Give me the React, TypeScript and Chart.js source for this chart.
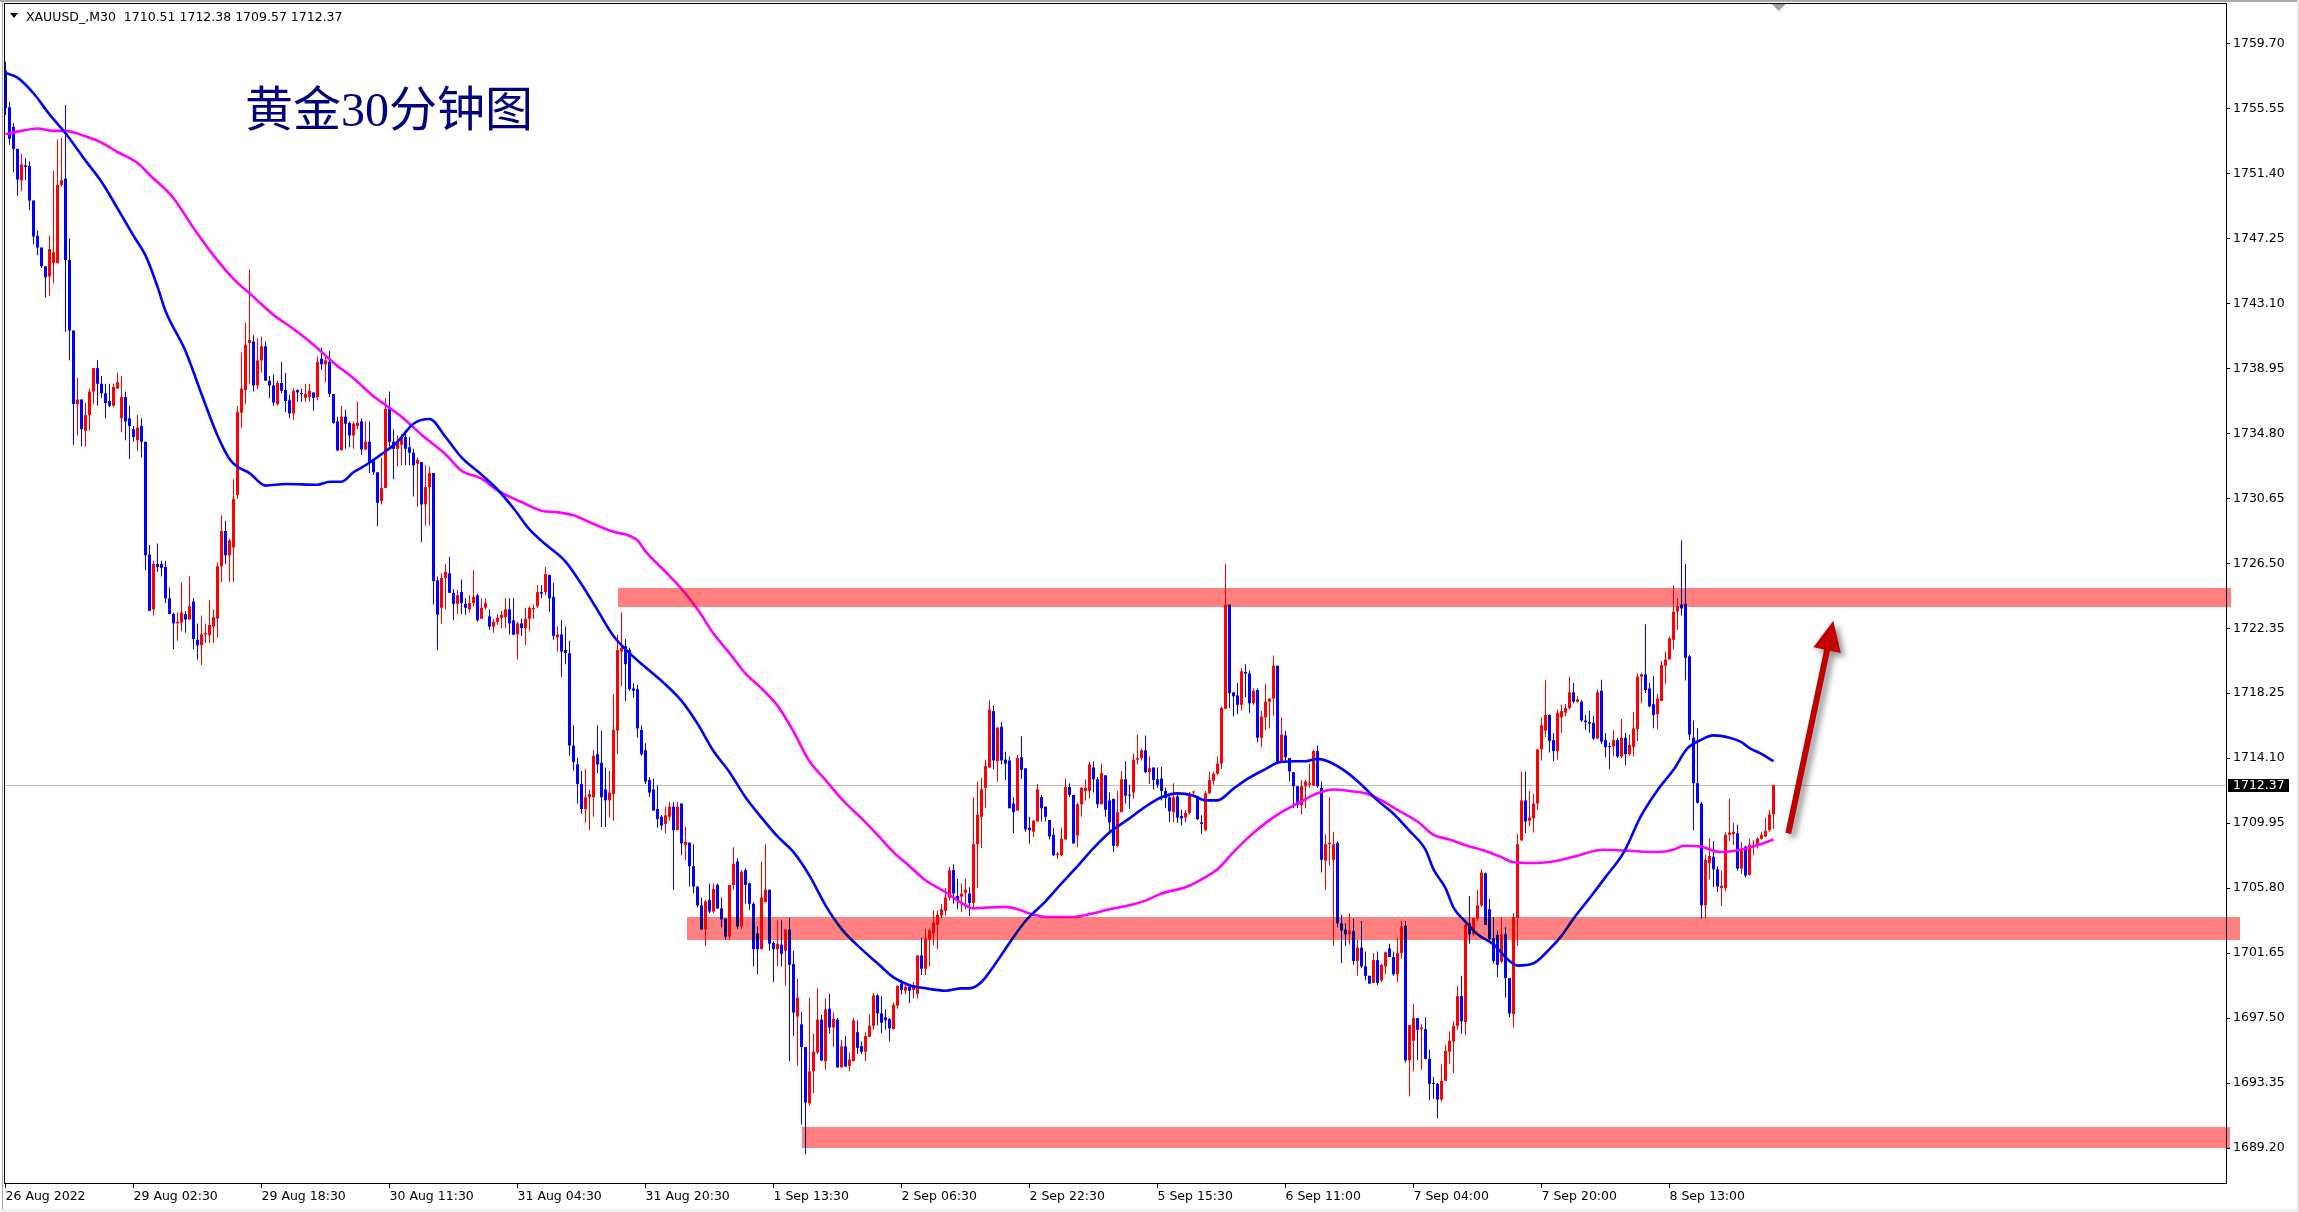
import React, { useEffect, useRef } from "react";
import { Chart, registerables } from "chart.js";

Chart.register(...registerables);

const W = 2299;
const H = 1212;

const symbolName = "XAUUSD_,M30";
const chartTitle = "黄金30分钟图";

const opens = [
1758.0,1755.66,1754.4,1753.0,1750.99,1751.95,1751.9,1749.7,1747.45,1746.7,
1745.5,1744.85,1745.7,1745.7,1750.7,1751.1,1745.9,1741.4,1736.7,1737.0,
1735.0,1736.0,1737.5,1739.0,1738.0,1737.4,1736.9,1736.6,1737.7,1735.8,
1737.15,1735.8,1735.1,1734.4,1735.3,1734.3,1727.1,1723.6,1726.5,1726.5,
1726.3,1724.3,1723.3,1722.7,1722.75,1723.3,1722.95,1724.1,1721.65,1721.3,
1722.0,1721.95,1722.5,1723.0,1726.35,1728.6,1727.05,1727.55,1730.9,1736.15,
1737.6,1740.6,1740.7,1737.9,1739.5,1740.4,1738.2,1737.9,1736.7,1738.05,
1737.6,1736.95,1736.1,1737.6,1737.4,1737.1,1737.15,1737.45,1737.15,1739.6,
1739.25,1739.4,1737.35,1735.6,1733.75,1735.9,1735.5,1734.7,1735.3,1735.6,
1733.8,1734.3,1733.2,1732.35,1730.5,1731.35,1736.4,1734.3,1733.85,1734.1,
1734.6,1733.95,1733.6,1732.9,1733.0,1730.3,1731.4,1732.3,1725.45,1723.7,
1725.6,1725.9,1724.65,1723.95,1724.7,1723.95,1723.6,1724.0,1724.5,1723.0,
1723.7,1723.15,1722.5,1722.8,1723.05,1723.1,1723.6,1722.9,1722.0,1722.7,
1722.4,1723.0,1723.6,1723.8,1724.7,1724.7,1725.8,1724.4,1721.8,1722.0,
1721.0,1720.8,1714.9,1713.7,1712.45,1710.85,1711.6,1711.6,1714.35,1713.8,
1712.1,1711.4,1711.8,1715.85,1720.9,1721.25,1721.0,1718.55,1718.5,1715.9,
1714.6,1712.7,1712.1,1710.85,1710.35,1709.9,1710.35,1711.0,1709.5,1711.2,
1708.55,1708.7,1707.2,1705.9,1704.7,1703.15,1705.05,1704.3,1706.0,1704.5,
1703.85,1702.7,1706.0,1707.5,1703.35,1706.95,1706.1,1704.8,1702.9,1701.9,
1704.9,1705.7,1702.3,1701.9,1702.2,1701.8,1703.15,1700.95,1697.6,1697.1,
1695.65,1692.05,1694.1,1695.3,1697.4,1694.75,1698.1,1696.9,1697.4,1694.35,
1695.7,1694.45,1694.75,1696.6,1695.7,1695.35,1696.3,1697.0,1698.95,1697.8,
1697.55,1697.45,1696.8,1698.3,1699.7,1699.25,1699.5,1699.3,1699.05,1701.5,
1700.65,1702.5,1702.9,1703.45,1704.05,1704.35,1705.2,1706.95,1705.3,1705.25,
1705.5,1705.45,1704.85,1708.6,1710.35,1712.2,1713.5,1717.1,1713.9,1716.1,
1714.0,1713.95,1711.2,1710.75,1714.15,1713.45,1709.65,1709.4,1710.05,1711.6,
1711.0,1710.15,1709.2,1707.9,1707.9,1708.9,1712.25,1711.75,1709.15,1711.15,
1712.0,1712.0,1713.5,1712.75,1711.15,1713.0,1711.4,1711.5,1708.5,1710.65,
1712.75,1711.75,1711.9,1714.0,1714.1,1714.6,1713.2,1713.5,1712.75,1712.8,
1712.0,1711.6,1710.65,1711.65,1710.4,1710.3,1710.6,1711.9,1711.65,1710.0,
1709.5,1711.85,1712.65,1713.1,1713.75,1717.25,1723.9,1718.3,1718.1,1717.5,
1719.6,1719.5,1717.6,1718.45,1715.4,1716.7,1717.7,1717.9,1720.0,1713.9,
1715.55,1714.1,1713.2,1712.3,1711.1,1712.3,1712.4,1712.35,1714.55,1712.2,
1707.55,1708.6,1707.6,1708.7,1703.55,1703.15,1702.85,1703.05,1701.15,1702.0,
1700.8,1700.2,1699.75,1701.2,1699.9,1700.8,1701.95,1701.4,1700.3,1701.65,
1703.4,1694.8,1696.05,1697.5,1696.8,1696.8,1694.9,1693.35,1693.3,1692.3,
1693.5,1695.35,1696.0,1697.0,1698.9,1697.25,1703.55,1702.85,1703.85,1704.7,
1706.75,1704.45,1702.6,1702.8,1701.1,1702.85,1700.05,1697.75,1703.9,1708.85,
1711.4,1710.1,1710.25,1711.2,1714.65,1715.85,1716.85,1715.25,1714.55,1716.7,
1717.0,1717.3,1718.3,1717.7,1717.7,1716.5,1716.4,1716.35,1715.35,1718.4,
1715.25,1714.85,1714.85,1715.25,1714.2,1715.4,1714.35,1714.8,1715.95,1719.3,
1719.45,1718.55,1717.55,1716.9,1717.75,1720.0,1720.4,1721.65,1723.45,1723.9,
1723.95,1720.6,1715.4,1712.5,1711.2,1704.7,1707.4,1707.8,1707.0,1705.8,
1705.8,1709.2,1709.25,1709.3,1707.05,1708.45,1706.65,1708.4,1708.55,1708.95,
1709.1,1709.5,1710.51
];

const highs = [
1758.56,1756.0,1754.65,1753.0,1752.7,1752.4,1752.2,1749.7,1747.8,1746.7,
1745.5,1747.45,1751.6,1753.6,1753.7,1755.8,1747.3,1741.4,1738.4,1737.0,
1736.77,1737.7,1739.0,1739.5,1738.5,1738.0,1738.0,1738.0,1738.7,1738.5,
1737.5,1736.6,1735.3,1736.0,1735.8,1734.3,1727.7,1726.7,1727.8,1726.7,
1726.7,1725.0,1723.4,1723.4,1725.3,1723.5,1725.7,1724.3,1722.7,1723.2,
1722.7,1724.2,1723.6,1726.6,1729.6,1729.25,1728.1,1731.9,1736.6,1740.0,
1741.9,1745.3,1741.1,1740.9,1741.0,1740.7,1738.5,1738.6,1738.2,1739.4,
1738.7,1737.3,1737.7,1737.65,1737.7,1738.0,1738.0,1737.45,1739.75,1740.3,
1739.75,1740.1,1737.35,1735.9,1736.6,1736.35,1735.6,1735.6,1736.85,1735.8,
1735.6,1735.6,1733.2,1732.35,1733.3,1737.1,1737.5,1735.1,1734.7,1734.8,
1735.05,1734.6,1733.85,1733.3,1733.0,1732.8,1732.7,1732.3,1725.7,1725.9,
1726.5,1726.96,1724.9,1724.85,1725.5,1724.3,1724.5,1726.1,1724.6,1724.3,
1724.3,1723.6,1723.0,1723.3,1723.5,1724.3,1724.3,1724.3,1722.8,1723.0,
1723.7,1723.8,1723.9,1725.15,1725.15,1726.3,1725.8,1725.3,1722.5,1722.9,
1722.5,1721.6,1716.2,1714.1,1713.3,1713.4,1712.1,1714.6,1716.2,1715.85,
1713.5,1713.3,1718.2,1722.0,1723.4,1721.7,1721.15,1718.9,1718.8,1716.2,
1715.05,1712.9,1712.8,1712.35,1710.45,1711.0,1711.3,1711.3,1711.3,1711.2,
1709.7,1708.7,1708.6,1705.9,1705.2,1705.05,1706.1,1706.1,1706.1,1705.2,
1703.85,1706.0,1708.4,1707.7,1706.95,1707.05,1706.15,1704.9,1703.35,1707.5,
1708.6,1705.7,1702.4,1703.75,1703.75,1703.15,1703.9,1701.8,1700.0,1697.9,
1695.65,1698.8,1696.5,1699.4,1697.7,1698.75,1699.05,1697.85,1697.5,1696.1,
1696.35,1695.3,1697.5,1697.35,1696.0,1696.6,1697.75,1699.1,1699.05,1698.9,
1698.05,1697.5,1698.5,1699.6,1699.95,1699.6,1699.7,1699.8,1701.5,1702.65,
1703.2,1703.2,1704.35,1704.35,1704.8,1705.8,1707.15,1707.3,1706.4,1706.1,
1706.4,1705.85,1711.6,1712.6,1712.85,1714.0,1717.8,1717.45,1716.05,1716.4,
1714.5,1714.2,1711.6,1714.3,1715.5,1713.45,1710.35,1710.15,1712.45,1711.75,
1711.0,1710.15,1709.65,1708.1,1709.65,1712.8,1712.5,1711.75,1711.25,1712.25,
1712.75,1713.85,1713.9,1712.9,1713.75,1713.0,1711.9,1711.5,1712.0,1713.3,
1713.9,1712.4,1714.4,1715.6,1714.7,1715.55,1714.2,1713.5,1713.5,1713.55,
1712.2,1711.7,1712.5,1711.85,1710.8,1710.8,1711.95,1712.0,1711.7,1710.45,
1712.0,1713.25,1713.25,1714.2,1717.4,1726.5,1723.9,1718.3,1718.9,1719.85,
1720.1,1719.7,1718.55,1718.55,1717.1,1718.85,1717.9,1720.65,1720.0,1716.7,
1715.85,1714.1,1713.2,1712.3,1712.7,1712.7,1713.75,1714.65,1714.9,1712.6,
1709.2,1711.6,1709.4,1708.8,1704.1,1703.55,1704.2,1703.85,1702.5,1703.7,
1701.75,1700.2,1701.65,1701.75,1700.95,1701.75,1702.25,1701.75,1702.65,1703.7,
1703.7,1697.05,1698.4,1697.5,1697.1,1697.55,1695.5,1693.75,1693.35,1694.55,
1695.8,1696.65,1697.3,1699.55,1700.2,1703.7,1705.3,1703.9,1705.7,1707.0,
1706.8,1705.1,1703.95,1703.1,1703.95,1703.3,1700.05,1704.2,1709.25,1713.25,
1713.25,1712.0,1711.8,1714.7,1716.7,1719.1,1716.9,1715.7,1717.2,1717.5,
1717.55,1719.3,1718.9,1718.05,1717.8,1716.85,1717.1,1716.8,1718.5,1719.1,
1715.7,1715.1,1715.9,1715.4,1716.6,1715.7,1715.6,1717.05,1719.5,1719.55,
1722.65,1718.9,1719.35,1718.2,1720.3,1720.9,1721.85,1725.15,1724.3,1728.0,
1726.5,1720.7,1716.5,1716.0,1711.3,1707.95,1708.95,1708.8,1707.2,1706.9,
1709.35,1711.5,1709.95,1709.85,1708.75,1708.5,1708.95,1708.85,1709.05,1709.4,
1710.3,1710.78,1712.38
];

const lows = [
1755.15,1753.26,1751.5,1750.0,1750.3,1751.0,1749.1,1746.9,1746.2,1745.4,
1743.5,1743.6,1744.4,1745.7,1750.6,1741.3,1739.5,1734.1,1734.7,1734.0,
1734.0,1735.0,1736.7,1736.6,1737.1,1735.8,1736.5,1736.5,1737.7,1734.9,
1734.4,1733.2,1734.3,1733.7,1733.3,1726.1,1723.5,1723.2,1726.0,1725.7,
1724.0,1723.3,1721.05,1721.6,1722.2,1722.1,1722.95,1721.05,1720.4,1720.05,
1721.45,1721.45,1721.45,1721.8,1725.35,1726.5,1725.35,1725.35,1730.65,1735.2,
1736.7,1738.0,1737.5,1737.65,1738.7,1738.2,1737.1,1736.6,1736.6,1737.4,
1736.2,1735.8,1735.7,1736.85,1736.85,1736.85,1736.85,1736.3,1736.95,1738.9,
1738.1,1737.15,1735.45,1733.7,1733.75,1733.85,1733.95,1733.85,1735.1,1733.45,
1733.75,1732.3,1732.2,1728.9,1730.3,1731.35,1734.0,1731.9,1732.7,1732.8,
1732.8,1732.8,1730.8,1730.15,1727.9,1728.95,1728.95,1723.9,1721.0,1722.7,
1723.6,1724.65,1722.9,1723.3,1723.3,1723.25,1723.4,1723.8,1722.8,1723.0,
1723.6,1722.3,1722.1,1722.6,1722.4,1722.4,1722.0,1721.98,1720.4,1721.9,
1721.3,1722.2,1723.0,1723.7,1724.3,1724.5,1723.45,1721.65,1720.9,1719.3,
1720.1,1714.25,1713.3,1711.2,1710.55,1709.95,1709.5,1710.35,1713.15,1709.7,
1709.7,1710.3,1710.1,1714.35,1718.7,1717.75,1718.4,1717.95,1715.4,1714.25,
1712.45,1711.6,1710.75,1709.65,1709.5,1709.3,1710.1,1705.7,1709.5,1707.9,
1707.6,1705.9,1705.45,1704.6,1703.15,1702.1,1704.2,1704.2,1704.5,1703.3,
1702.5,1702.5,1705.7,1703.2,1703.2,1704.8,1704.4,1700.8,1700.3,1701.9,
1704.9,1701.8,1699.8,1700.8,1700.8,1699.6,1694.75,1696.35,1694.45,1690.7,
1688.8,1691.9,1692.7,1695.2,1694.75,1694.2,1696.5,1695.65,1694.35,1694.35,
1694.4,1694.1,1694.75,1695.2,1695.2,1694.75,1696.3,1696.75,1697.05,1696.55,
1696.75,1696.0,1696.75,1698.1,1699.0,1699.0,1698.45,1698.75,1698.75,1700.25,
1700.25,1700.8,1702.15,1701.9,1703.85,1704.05,1705.0,1704.8,1704.45,1704.25,
1704.45,1704.0,1704.45,1705.8,1708.35,1710.9,1713.45,1713.4,1712.6,1713.7,
1712.7,1710.9,1709.3,1710.75,1712.75,1709.4,1708.65,1709.05,1710.05,1710.05,
1710.05,1708.9,1707.85,1707.65,1707.85,1708.9,1711.6,1708.65,1708.4,1710.35,
1711.4,1711.5,1711.9,1710.9,1711.15,1710.35,1709.4,1708.1,1708.4,1710.65,
1711.2,1710.85,1711.5,1713.7,1713.95,1713.15,1712.45,1712.1,1712.2,1711.4,
1710.9,1710.0,1710.0,1709.95,1709.8,1710.0,1710.5,1711.6,1710.15,1709.25,
1709.45,1711.8,1712.4,1713.0,1713.4,1717.25,1717.3,1716.75,1716.9,1717.15,
1718.0,1717.0,1717.5,1715.1,1714.8,1715.9,1716.0,1716.8,1713.85,1713.9,
1713.9,1712.6,1710.9,1710.9,1710.5,1710.9,1712.2,1712.3,1712.2,1706.8,
1705.7,1707.25,1702.1,1703.3,1701.0,1702.1,1702.2,1700.9,1700.2,1700.7,
1699.9,1699.7,1699.75,1699.6,1699.8,1700.3,1701.4,1700.2,1699.8,1701.3,
1694.65,1692.5,1694.1,1694.8,1694.2,1694.85,1692.25,1692.35,1691.1,1692.15,
1693.5,1694.6,1694.0,1696.75,1696.5,1696.4,1702.25,1702.75,1703.7,1704.6,
1703.45,1702.4,1701.0,1700.1,1701.0,1698.8,1697.55,1696.9,1702.1,1708.8,
1709.3,1709.75,1709.35,1710.8,1713.95,1715.45,1714.45,1713.9,1714.0,1715.7,
1716.75,1717.2,1717.6,1717.65,1716.4,1715.9,1715.7,1715.25,1715.3,1715.0,
1714.15,1713.4,1714.2,1714.1,1714.1,1713.65,1714.25,1714.2,1715.2,1717.6,
1718.25,1717.35,1716.0,1715.95,1717.75,1718.85,1720.4,1721.05,1722.3,1723.2,
1719.05,1715.25,1709.5,1711.2,1703.85,1703.85,1706.35,1705.85,1705.55,1704.65,
1705.6,1708.8,1708.55,1706.9,1706.7,1706.5,1706.6,1707.9,1708.35,1708.9,
1709.05,1709.4,1709.57
];

const closes = [
1755.6,1753.64,1753.0,1751.04,1752.0,1751.85,1749.7,1747.4,1746.7,1745.5,
1744.8,1746.6,1746.4,1750.7,1751.0,1745.9,1741.4,1736.7,1737.0,1735.1,
1736.0,1737.5,1739.0,1738.0,1737.4,1736.77,1736.6,1737.8,1738.1,1737.15,
1735.6,1735.3,1734.6,1735.2,1734.3,1727.05,1723.5,1726.5,1726.3,1726.25,
1724.3,1723.3,1722.7,1722.8,1723.4,1722.95,1723.8,1721.7,1721.3,1722.0,
1722.1,1722.6,1723.1,1726.35,1728.6,1727.05,1728.0,1730.65,1736.2,1737.7,
1740.5,1740.8,1737.9,1739.5,1740.4,1738.2,1737.9,1736.8,1738.05,1737.55,
1736.9,1736.1,1737.55,1737.45,1737.35,1737.35,1737.55,1737.1,1739.4,1739.25,
1739.5,1737.35,1735.5,1733.75,1735.9,1735.45,1734.7,1735.45,1735.5,1733.8,
1734.3,1732.95,1732.35,1730.4,1731.35,1736.4,1734.3,1733.85,1734.3,1734.6,
1733.85,1733.6,1732.8,1733.15,1730.3,1731.4,1732.3,1725.4,1723.25,1725.6,
1726.0,1724.65,1723.95,1724.5,1724.0,1723.7,1724.0,1724.4,1722.9,1723.7,
1724.0,1722.5,1722.8,1723.05,1723.25,1723.6,1722.7,1721.98,1722.7,1722.4,
1723.0,1723.7,1723.7,1724.7,1724.6,1725.85,1724.3,1721.9,1722.0,1720.9,
1720.8,1714.9,1713.85,1712.45,1710.85,1711.6,1711.8,1714.25,1713.7,1711.6,
1711.4,1711.9,1715.9,1721.0,1721.15,1720.1,1718.5,1718.4,1716.0,1714.35,
1712.6,1711.9,1710.75,1710.2,1709.8,1710.45,1711.0,1709.5,1711.0,1708.65,
1708.75,1707.2,1705.9,1704.7,1703.15,1704.95,1704.3,1705.75,1704.5,1703.8,
1702.7,1706.0,1707.35,1703.35,1706.85,1706.0,1704.8,1701.9,1701.9,1705.2,
1705.7,1702.25,1701.9,1702.25,1701.6,1703.15,1700.9,1697.85,1698.8,1695.65,
1692.1,1694.1,1695.35,1697.4,1694.8,1698.05,1696.9,1697.45,1694.35,1695.7,
1694.4,1694.85,1697.35,1695.6,1695.35,1696.35,1697.0,1698.95,1697.8,1697.2,
1697.35,1696.85,1698.35,1699.55,1699.3,1699.5,1699.25,1699.5,1701.5,1700.65,
1702.6,1703.1,1703.6,1704.1,1704.45,1705.2,1706.95,1705.45,1705.05,1705.45,
1705.7,1704.85,1708.6,1710.5,1712.1,1713.6,1717.2,1713.95,1716.05,1713.95,
1713.75,1710.9,1710.65,1714.1,1713.35,1709.55,1709.5,1710.1,1712.1,1710.9,
1710.35,1709.1,1707.9,1708.0,1708.95,1712.25,1711.75,1708.65,1711.15,1712.2,
1712.2,1713.7,1712.75,1711.15,1713.15,1710.8,1710.0,1708.5,1710.65,1712.75,
1711.7,1711.7,1714.0,1714.1,1714.6,1713.2,1713.45,1712.7,1712.4,1712.0,
1711.55,1710.7,1711.6,1710.3,1710.25,1710.6,1711.85,1711.95,1710.2,1709.9,
1711.85,1712.7,1713.1,1713.75,1717.3,1723.9,1718.25,1718.05,1717.5,1719.65,
1719.5,1717.6,1718.4,1715.4,1716.75,1717.7,1717.9,1720.0,1713.85,1715.6,
1714.15,1713.25,1712.3,1711.1,1712.3,1712.6,1712.5,1714.55,1712.3,1707.6,
1708.6,1708.7,1708.6,1703.55,1703.1,1702.85,1703.1,1701.15,1702.0,1700.8,
1700.2,1699.7,1701.2,1699.75,1700.9,1701.7,1701.4,1700.3,1701.65,1703.35,
1694.8,1697.05,1697.5,1696.75,1696.9,1694.9,1693.3,1693.3,1692.3,1693.5,
1695.4,1696.05,1697.0,1698.9,1697.3,1703.45,1702.85,1703.9,1704.7,1706.8,
1703.45,1702.55,1701.15,1700.9,1702.85,1700.05,1697.8,1703.95,1708.6,1711.4,
1710.05,1710.3,1711.2,1714.65,1716.2,1716.85,1715.2,1714.55,1717.0,1717.1,
1717.3,1718.3,1717.7,1717.85,1716.5,1716.4,1716.3,1715.35,1718.3,1715.15,
1714.8,1714.8,1715.25,1714.2,1715.4,1714.35,1714.95,1716.0,1719.3,1719.45,
1718.45,1717.4,1716.85,1717.9,1720.05,1720.4,1721.75,1723.45,1723.8,1723.65,
1720.5,1715.6,1712.5,1711.25,1704.7,1707.6,1707.85,1707.0,1705.9,1705.95,
1709.2,1709.35,1709.4,1707.05,1708.2,1706.6,1708.55,1708.55,1708.95,1709.2,
1709.45,1710.5,1712.37
];

// Fast moving average (blue), read at sparse bar positions
const maFastBar = [0,3,7,11,15,20,24,28,32,35,38,40,45,49,53,56,58,61,65,70,78,81,84,87,90,94,98,102,106,110,114,119,123,127,131,135,140,144,148,152,156,160,165,169,173,177,181,185,189,193,197,201,205,209,214,218,222,226,230,235,239,241,244,247,251,255,260,264,268,272,276,281,285,289,293,297,300,303,307,311,315,318,322,325,328,331,335,339,343,347,351,355,357,360,362,365,368,372,376,378,382,386,389,392,396,400,404.6,408.75,413,417,420.4,423.75,427,431,433.75,436.25,438.75,442];
const maFastVal = [1757.85,1757.55,1756.55,1755.2,1754.0,1752.25,1750.9,1749.2,1747.45,1746.2,1744.2,1742.65,1740.1,1737.35,1734.7,1733.2,1732.7,1732.3,1731.5,1731.6,1731.55,1731.75,1731.75,1732.35,1732.8,1733.5,1734.3,1735.45,1735.75,1734.6,1733.3,1732.2,1731.25,1730.05,1728.7,1727.75,1726.65,1725.2,1723.55,1721.9,1720.8,1719.9,1718.8,1717.75,1716.3,1714.55,1713.2,1711.6,1710.3,1709.1,1708.1,1706.6,1704.7,1703.2,1701.9,1701.0,1700.1,1699.6,1699.4,1699.25,1699.4,1699.4,1699.8,1700.8,1702.3,1703.7,1704.95,1706.1,1707.2,1708.35,1709.35,1710.25,1711.0,1711.6,1711.85,1711.7,1711.4,1711.4,1712.15,1712.85,1713.4,1713.8,1713.9,1713.9,1714.05,1713.85,1713.25,1712.4,1711.4,1710.55,1709.45,1708.25,1707.0,1705.8,1704.55,1703.65,1702.85,1702.2,1701.15,1700.85,1701.0,1701.9,1702.75,1703.85,1705.15,1706.5,1708.1,1710.35,1712.05,1713.35,1714.7,1715.25,1715.55,1715.4,1715.15,1714.7,1714.4,1713.9];

// Slow moving average (magenta)
const maSlowBar = [0,4,8,12,15,20,24,28,33,36,42,47,52,57,62,67,72,77,82,87,92,99,104,110,114,119,123,129,134,138,142,147,152,156,158,160,165,169,173,177,181,185,189,193,197,201,205,209,214,218,222,226,230,235,239,242,245,250,253,257,261,267,272,276,281,285,289,295.5,300,303,307,311,315,319,323,328,332,336,340,344,348,353,357,361,365.4,369.6,373.75,377,382,388,392,399.4,404.6,413,417,419.6,423.75,428.75,433.75,438,442];
const maSlowVal = [1753.95,1754.15,1754.3,1754.15,1754.15,1753.8,1753.4,1752.8,1752.1,1751.35,1749.85,1747.95,1746.2,1744.7,1743.55,1742.4,1741.5,1740.5,1739.35,1738.35,1737.2,1735.9,1734.75,1733.5,1732.45,1731.95,1731.2,1730.45,1729.9,1729.8,1729.6,1729.05,1728.55,1728.3,1728.0,1727.3,1726.0,1724.9,1723.6,1722.05,1720.8,1719.5,1718.55,1717.45,1715.8,1713.9,1712.7,1711.5,1710.25,1709.2,1708.1,1707.2,1706.3,1705.55,1704.85,1704.5,1704.55,1704.6,1704.45,1704.1,1703.95,1703.95,1704.2,1704.45,1704.7,1705.0,1705.45,1705.9,1706.5,1707.0,1708.1,1709.1,1709.95,1710.65,1711.2,1711.85,1712.1,1712.0,1711.85,1711.4,1710.8,1710.05,1709.2,1708.9,1708.5,1708.2,1707.8,1707.45,1707.4,1707.55,1707.8,1708.25,1708.2,1708.1,1708.25,1708.5,1708.45,1708.1,1708.25,1708.55,1708.9];

const xTickBars = [0,32,64,96,128,160,192,224,256,288,320,352,384,416];
const xTickLabels = ["26 Aug 2022","29 Aug 02:30","29 Aug 18:30","30 Aug 11:30","31 Aug 04:30","31 Aug 20:30","1 Sep 13:30","2 Sep 06:30","2 Sep 22:30","5 Sep 15:30","6 Sep 11:00","7 Sep 04:00","7 Sep 20:00","8 Sep 13:00"];
const yTickLabels = ["1759.70","1755.55","1751.40","1747.25","1743.10","1738.95","1734.80","1730.65","1726.50","1722.35","1718.25","1714.10","1709.95","1705.80","1701.65","1697.50","1693.35","1689.20"];

// Support / resistance zones (bar index range, price range)
const zoneStartBar = [153.1, 170.4, 199.1];
const zoneEndBar = [556.4, 558.6, 556.0];
const zoneLow = [1723.75, 1702.5, 1689.23];
const zoneHigh = [1724.96, 1703.95, 1690.54];

// Arrow (bar, price)
const arrowFrom = [445.7, 1709.3];
const arrowTo = [456.95, 1722.87];
const shiftMarkBar = 443.3;

const Y_MIN = 1686.97;
const Y_MAX = 1762.25;
const X_MIN = -0.125;
const X_MAX = 555.125;

const RED = "#FF0000";
const BLUE = "#0000FF";
const MAGENTA = "#FF00FF";
const ZONE = "rgb(255,128,128)";
const FONT = '"DejaVu Sans"';

export default function App() {
  const ref = useRef<HTMLCanvasElement | null>(null);

  useEffect(() => {
    const canvas = ref.current;
    if (!canvas) return;
    const n = Math.min(opens.length, highs.length, lows.length, closes.length);
    const colors: string[] = [];
    const bodies: any[] = [];
    const wicks: any[] = [];
    for (let i = 0; i < n; i++) {
      colors.push(closes[i] >= opens[i] ? RED : BLUE);
      bodies.push({ x: i, y: [opens[i], closes[i]] });
      wicks.push({ x: i, y: [lows[i], highs[i]] });
    }
    const lastClose = closes[n - 1];
    const fast = maFastBar.map((b, i) => ({ x: b, y: maFastVal[i] }));
    const slow = maSlowBar.map((b, i) => ({ x: b, y: maSlowVal[i] }));

    const overlay = {
      id: "overlay",
      beforeDraw(chart: any) {
        const { ctx, width, height } = chart;
        ctx.save();
        ctx.fillStyle = "#ffffff";
        ctx.fillRect(0, 0, width, height);
        ctx.fillStyle = "#a9a9a9";
        ctx.fillRect(0, 0, width, 2);
        ctx.fillStyle = "#f0f0f0";
        ctx.fillRect(0, height - 3, width, 3);
        ctx.fillStyle = "#e4e4e4";
        ctx.fillRect(width - 2, 0, 2, height);
        ctx.fillStyle = "#a9a9a9";
        ctx.fillRect(2, 2, 1, height - 5);
        ctx.restore();
      },
      beforeDatasetsDraw(chart: any) {
        const { ctx, chartArea, scales } = chart;
        const y = Math.round(scales.y.getPixelForValue(lastClose)) + 0.5;
        ctx.save();
        ctx.strokeStyle = "#c0c0c0";
        ctx.lineWidth = 1;
        ctx.beginPath();
        ctx.moveTo(chartArea.left, y);
        ctx.lineTo(chartArea.right, y);
        ctx.stroke();
        ctx.restore();
      },
      afterDatasetsDraw(chart: any) {
        const { ctx, chartArea, scales } = chart;
        const sx = scales.x;
        const sy = scales.y;
        ctx.save();
        // zones
        ctx.globalCompositeOperation = "multiply";
        ctx.fillStyle = ZONE;
        for (let k = 0; k < zoneStartBar.length; k++) {
          const x0 = sx.getPixelForValue(zoneStartBar[k]);
          const x1 = sx.getPixelForValue(zoneEndBar[k]);
          const y0 = sy.getPixelForValue(zoneHigh[k]);
          const y1 = sy.getPixelForValue(zoneLow[k]);
          ctx.fillRect(Math.round(x0), Math.round(y0), Math.round(x1 - x0), Math.round(y1 - y0));
        }
        ctx.globalCompositeOperation = "source-over";
        // arrow
        const ax0 = sx.getPixelForValue(arrowFrom[0]);
        const ay0 = sy.getPixelForValue(arrowFrom[1]);
        const ax1 = sx.getPixelForValue(arrowTo[0]);
        const ay1 = sy.getPixelForValue(arrowTo[1]);
        const dx = ax1 - ax0, dy = ay1 - ay0;
        const len = Math.hypot(dx, dy);
        const ux = dx / len, uy = dy / len;
        const px = -uy, py = ux;
        const headLen = 30, headHalf = 14, shaftHalf = 3;
        const bx = ax1 - ux * headLen, by = ay1 - uy * headLen;
        ctx.shadowColor = "rgba(0,0,0,0.45)";
        ctx.shadowBlur = 6;
        ctx.shadowOffsetX = 4;
        ctx.shadowOffsetY = 4;
        ctx.fillStyle = "#C00000";
        ctx.beginPath();
        ctx.moveTo(ax0 + px * shaftHalf, ay0 + py * shaftHalf);
        ctx.lineTo(bx + px * shaftHalf, by + py * shaftHalf);
        ctx.lineTo(bx + px * headHalf, by + py * headHalf);
        ctx.lineTo(ax1, ay1);
        ctx.lineTo(bx - px * headHalf, by - py * headHalf);
        ctx.lineTo(bx - px * shaftHalf, by - py * shaftHalf);
        ctx.lineTo(ax0 - px * shaftHalf, ay0 - py * shaftHalf);
        ctx.closePath();
        ctx.fill();
        ctx.shadowColor = "transparent";
        ctx.shadowBlur = 0;
        ctx.shadowOffsetX = 0;
        ctx.shadowOffsetY = 0;
        // frame
        ctx.strokeStyle = "#000";
        ctx.lineWidth = 1;
        ctx.strokeRect(chartArea.left - 0.5, chartArea.top - 0.5, chartArea.right - chartArea.left + 1, chartArea.bottom - chartArea.top + 1);
        // shift marker
        const tx = sx.getPixelForValue(shiftMarkBar);
        ctx.fillStyle = "#a0a0a0";
        ctx.beginPath();
        ctx.moveTo(tx - 7, chartArea.top);
        ctx.lineTo(tx + 7, chartArea.top);
        ctx.lineTo(tx, chartArea.top + 7);
        ctx.closePath();
        ctx.fill();
        // current price label
        const yc = sy.getPixelForValue(lastClose);
        ctx.fillStyle = "#000";
        ctx.fillRect(chartArea.right + 2, Math.round(yc - 6.5), 61, 13);
        ctx.fillStyle = "#fff";
        ctx.font = "12.5px " + FONT;
        ctx.textBaseline = "middle";
        ctx.textAlign = "left";
        ctx.fillText(lastClose.toFixed(2), chartArea.right + 7, yc + 0.5);
        ctx.restore();
      },
    };

    const chart = new Chart(canvas, {
      type: "bar",
      data: {
        datasets: [
          {
            type: "line",
            data: fast,
            borderColor: BLUE,
            borderWidth: 2.6,
            pointRadius: 0,
            cubicInterpolationMode: "monotone",
            order: 0,
          } as any,
          {
            type: "line",
            data: slow,
            borderColor: MAGENTA,
            borderWidth: 2.6,
            pointRadius: 0,
            cubicInterpolationMode: "monotone",
            order: 1,
          } as any,
          {
            type: "bar",
            data: bodies,
            backgroundColor: colors,
            barThickness: 3,
            grouped: false,
            borderWidth: 0,
            inflateAmount: 0,
            minBarLength: 1,
            order: 2,
          } as any,
          {
            type: "bar",
            data: wicks,
            backgroundColor: colors,
            barThickness: 1,
            grouped: false,
            borderWidth: 0,
            inflateAmount: 0,
            minBarLength: 1,
            order: 3,
          } as any,
        ],
      },
      options: {
        responsive: false,
        animation: false,
        devicePixelRatio: 1,
        events: [],
        layout: { padding: { left: 5, top: 4, right: 0, bottom: 0 } },
        plugins: { legend: { display: false }, tooltip: { enabled: false } },
        scales: {
          x: {
            type: "linear",
            min: X_MIN,
            max: X_MAX,
            offset: false,
            afterBuildTicks: (s: any) => {
              s.ticks = xTickBars.map((v) => ({ value: v }));
            },
            afterFit: (s: any) => {
              s.height = 29;
              s.paddingLeft = 0;
              s.paddingRight = 0;
              s.paddingTop = 0;
              s.paddingBottom = 0;
            },
            ticks: {
              autoSkip: false,
              maxRotation: 0,
              minRotation: 0,
              align: "start",
              padding: 1,
              color: "#000",
              font: { family: FONT, size: 12.5 },
              callback: (_v: any, i: number) => xTickLabels[i],
            },
            grid: { display: true, drawOnChartArea: false, drawTicks: true, tickLength: 5, color: "#000", offset: false },
            border: { display: true, color: "#000" },
          },
          y: {
            type: "linear",
            position: "right",
            min: Y_MIN,
            max: Y_MAX,
            afterBuildTicks: (s: any) => {
              s.ticks = yTickLabels.map((t) => ({ value: parseFloat(t) }));
            },
            afterFit: (s: any) => {
              s.width = 73;
              s.paddingLeft = 0;
              s.paddingRight = 0;
              s.paddingTop = 0;
              s.paddingBottom = 0;
            },
            ticks: {
              autoSkip: false,
              padding: 3,
              color: "#000",
              font: { family: FONT, size: 12.5 },
              callback: (_v: any, i: number) => yTickLabels[i],
            },
            grid: { display: true, drawOnChartArea: false, drawTicks: true, tickLength: 4, color: "#000" },
            border: { display: true, color: "#000" },
          },
        },
      } as any,
      plugins: [overlay],
    });
    return () => chart.destroy();
  }, []);

  const li = closes.length - 1;
  const header = `${symbolName}  ${opens[li].toFixed(2)} ${highs[li].toFixed(2)} ${lows[li].toFixed(2)} ${closes[li].toFixed(2)}`;

  return (
    <div style={{ position: "fixed", left: 0, top: 0, width: W, height: H, overflow: "hidden", background: "#fff" }}>
      <canvas ref={ref} width={W} height={H} style={{ position: "absolute", left: 0, top: 0, width: W, height: H }} />
      <div
        style={{
          position: "absolute",
          left: 9.5,
          top: 12.5,
          width: 0,
          height: 0,
          borderLeft: "4.5px solid transparent",
          borderRight: "4.5px solid transparent",
          borderTop: "5px solid #000",
        }}
      />
      <div
        style={{
          position: "absolute",
          left: 26,
          top: 9,
          fontFamily: FONT,
          fontSize: 12.5,
          lineHeight: "15px",
          color: "#000",
          whiteSpace: "pre",
        }}
      >
        {header}
      </div>
      <div
        style={{
          position: "absolute",
          left: 245,
          top: 86,
          fontSize: 48,
          lineHeight: "48px",
          fontFamily: '"Liberation Serif", "Noto Sans CJK SC", serif',
          color: "#000080",
          whiteSpace: "nowrap",
        }}
      >
        {chartTitle}
      </div>
    </div>
  );
}
